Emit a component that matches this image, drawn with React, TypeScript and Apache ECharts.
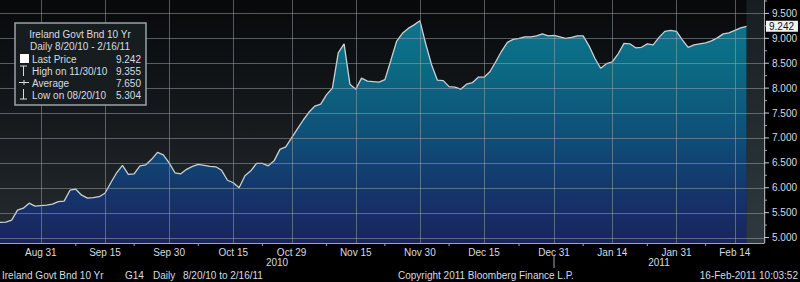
import React, { useEffect, useRef } from "react";
import * as echarts from "echarts";

// ---- categories: every weekday from 20 Aug 2010 to 21 Feb 2011 (last 3 are future slots)
const startDate = "2010-08-20";
const endDate = "2011-02-21";
function businessDays(a: string, b: string): string[] {
  const out: string[] = [];
  const d = new Date(a + "T00:00:00Z");
  const e = new Date(b + "T00:00:00Z");
  while (d <= e) {
    const wd = d.getUTCDay();
    if (wd !== 0 && wd !== 6) out.push(d.toISOString().slice(0, 10));
    d.setUTCDate(d.getUTCDate() + 1);
  }
  return out;
}
const dates = businessDays(startDate, endDate);

// ---- series values (Ireland 10Y yield, daily)
const yields = [
  5.304, 5.31, 5.35, 5.55, 5.59, 5.69, 5.63, 5.64, 5.65, 5.67,
  5.72, 5.73, 5.95, 5.97, 5.85, 5.79, 5.8, 5.82, 5.89, 6.1,
  6.3, 6.45, 6.27, 6.28, 6.44, 6.46, 6.57, 6.71, 6.66, 6.5,
  6.3, 6.28, 6.37, 6.43, 6.47, 6.45, 6.43, 6.42, 6.35, 6.15,
  6.1, 6.0, 6.24, 6.34, 6.49, 6.49, 6.44, 6.54, 6.77, 6.82,
  7.0, 7.18, 7.36, 7.52, 7.64, 7.68, 7.87, 8.0, 8.71, 8.89,
  8.08, 7.98, 8.2, 8.14, 8.13, 8.12, 8.17, 8.55, 8.94, 9.1,
  9.2, 9.27, 9.355, 8.89, 8.47, 8.16, 8.15, 8.03, 8.02, 7.98,
  8.08, 8.11, 8.22, 8.22, 8.33, 8.53, 8.74, 8.92, 8.98, 9.0,
  9.03, 9.03, 9.05, 9.09, 9.05, 9.06, 9.03, 9.0, 9.02, 9.05,
  9.05, 8.85, 8.6, 8.4, 8.49, 8.53, 8.69, 8.9, 8.89, 8.81,
  8.82, 8.89, 8.87, 9.02, 9.14, 9.16, 9.14, 8.97, 8.82, 8.87,
  8.89, 8.91, 8.95, 9.01, 9.09, 9.11, 9.16, 9.21, 9.242,
];

// ---- axis ticks / labels
const tickDates = [
  "2010-08-31", "2010-09-15", "2010-09-30", "2010-10-15", "2010-10-29", "2010-11-15",
  "2010-11-30", "2010-12-15", "2010-12-31", "2011-01-14", "2011-01-31", "2011-02-14",
];
const tickLabels = [
  "Aug 31", "Sep 15", "Sep 30", "Oct 15", "Oct 29", "Nov 15",
  "Nov 30", "Dec 15", "Dec 31", "Jan 14", "Jan 31", "Feb 14",
];
const minorTickIdx = [13, 23, 34, 45, 56, 66, 77, 89, 100, 111, 121];
const yearLabels = ["2010", "2011"];
const yearBreakDate = "2010-12-31";
const yTicks = [5, 5.5, 6, 6.5, 7, 7.5, 8, 8.5, 9, 9.5];
const yMinorTicks = [5.25, 5.75, 6.25, 6.75, 7.25, 7.75, 8.25, 8.75, 9.25, 9.75];
const yMin = 4.89;
const yMax = 9.77;

// ---- legend statistics
const titleText = "Ireland Govt Bnd 10 Yr";
const rangeText = "Daily 8/20/10 - 2/16/11";
const lastPrice = 9.242;
const highDate = "11/30/10";
const highValue = 9.355;
const avgValue = 7.65;
const lowDate = "08/20/10";
const lowValue = 5.304;

const FONT = "Liberation Sans, Arial, sans-serif";
const TXT = "#d6dce0";
const GRID = "rgba(160,168,174,0.5)";
const AXIS = "#a0a6aa";

export default function App() {
  const ref = useRef<HTMLDivElement>(null);
  useEffect(() => {
    if (!ref.current) return;
    const chart = echarts.init(ref.current, null, { renderer: "svg" });
    const tickSet = new Set(tickDates);

    chart.setOption({
      animation: false,
      backgroundColor: "transparent",
      grid: { left: 0, right: 34, top: 0, bottom: 39 },
      xAxis: {
        type: "category",
        data: dates,
        boundaryGap: false,
        axisLine: { show: true, lineStyle: { color: AXIS, width: 1 } },
        axisTick: { show: false },
        axisLabel: {
          interval: (_i: number, v: string) => tickSet.has(v),
          formatter: (v: string) => tickLabels[tickDates.indexOf(v)] ?? "",
          color: TXT,
          fontFamily: FONT,
          fontSize: 10,
          margin: 4,
        },
        splitLine: { show: false },
      },
      yAxis: {
        type: "value",
        position: "right",
        min: yMin,
        max: yMax,
        axisLine: { show: true, lineStyle: { color: AXIS, width: 1 } },
        axisTick: { show: false },
        axisLabel: {
          customValues: yTicks,
          formatter: (v: number) => v.toFixed(3),
          color: TXT,
          fontFamily: FONT,
          fontSize: 10,
          margin: 8,
        },
        splitLine: { show: false },
      },
      series: [
        {
          type: "line",
          data: yields,
          symbol: "none",
          z: 2,
          lineStyle: { color: "#c9d1d5", width: 1.3 },
          areaStyle: {
            opacity: 1,
            color: {
              type: "linear",
              x: 0,
              y: 0,
              x2: 0,
              y2: 243,
              global: true,
              colorStops: [
                { offset: 0, color: "#0a7b8f" },
                { offset: 0.3, color: "#0c6882" },
                { offset: 0.55, color: "#0e5079" },
                { offset: 0.8, color: "#15346b" },
                { offset: 1, color: "#1a245e" },
              ],
            },
          },
          markArea: {
            silent: true,
            itemStyle: { color: "rgba(90,115,120,0.2)" },
            data: [[{ xAxis: dates[yields.length - 1] }, { xAxis: dates[dates.length - 1] }]],
          },
        },
      ],
    });

    // pixel positions from the chart's own scales
    const px = (d: string) => chart.convertToPixel({ xAxisIndex: 0 }, d) as number;
    const py = (v: number) => chart.convertToPixel({ yAxisIndex: 0 }, v) as number;
    const xStart = px(dates[0]);
    const xBreak = px(yearBreakDate);
    const xEnd = px(dates[dates.length - 1]);
    const yTop = py(yMax);
    const yBottom = py(yMin);

    const t = (text: string, x: number, y: number, align = "left", size = 10, fill = TXT, z = 21) => ({
      type: "text",
      x,
      y,
      z,
      silent: true,
      style: { text, fill, font: `${size}px ${FONT}`, textAlign: align, textVerticalAlign: "middle" },
    });
    const ln = (x1: number, y1: number, x2: number, y2: number, c = TXT, w = 1, z = 21) => ({
      type: "line",
      z,
      silent: true,
      shape: { x1, y1, x2, y2 },
      style: { stroke: c, lineWidth: w },
    });

    const gridLines = [
      ...tickDates.map((d) => {
        const x = Math.round(px(d)) + 0.5;
        return ln(x, yTop, x, yBottom, GRID, 1, 15);
      }),
      ...yTicks.map((v) => {
        const y = Math.round(py(v)) + 0.5;
        return ln(xStart, y, xEnd, y, GRID, 1, 15);
      }),
    ];
    const ticks = [
      ...minorTickIdx.map((i) => ln(px(dates[i]), yBottom, px(dates[i]), yBottom + 3, AXIS, 1, 21)),
      ...yTicks.map((v) => ln(xEnd, py(v), xEnd + 5, py(v), "#c8ced2", 1, 21)),
      ...yMinorTicks.map((v) => ln(xEnd, py(v), xEnd + 3, py(v), AXIS, 1, 21)),
    ];
    const yLast = py(lastPrice);

    chart.setOption({
      graphic: [
        ...gridLines,
        ...ticks,
        // last price tag
        {
          type: "rect",
          z: 22,
          silent: true,
          shape: { x: xEnd + 2, y: yLast - 5.5, width: 32, height: 11 },
          style: { fill: "#f2f2f2" },
        },
        t(lastPrice.toFixed(3), xEnd + 5, yLast + 0.5, "left", 10, "#111", 23),
        // legend box
        {
          type: "rect",
          silent: true,
          z: 20,
          shape: { x: 15, y: 23, width: 131, height: 82 },
          style: { fill: "#171c1f", stroke: "#9aa2a7", lineWidth: 1.5 },
        },
        t(titleText, 80, 34, "center"),
        t(rangeText, 80, 46, "center"),
        { type: "rect", z: 21, silent: true, shape: { x: 20, y: 54, width: 9, height: 9 }, style: { fill: "#ffffff" } },
        t("Last Price", 32, 59),
        t(lastPrice.toFixed(3), 141, 59, "right"),
        ln(20, 66, 27, 66),
        ln(23.5, 66, 23.5, 76),
        t(`High on ${highDate}`, 32, 71),
        t(highValue.toFixed(3), 141, 71, "right"),
        ln(19, 82.5, 29, 82.5),
        ln(24, 80, 24, 85),
        t("Average", 32, 83),
        t(avgValue.toFixed(3), 141, 83, "right"),
        ln(23.5, 89, 23.5, 99),
        ln(20, 99, 27, 99),
        t(`Low on ${lowDate}`, 32, 95),
        t(lowValue.toFixed(3), 141, 95, "right"),
        // year labels and separator
        t(yearLabels[0], (xStart + xBreak) / 2, 262, "center"),
        t(yearLabels[1], (xBreak + xEnd) / 2, 262, "center"),
        ln(xBreak, 256, xBreak, 268, AXIS, 1),
        // footer
        t(titleText, 2, 275),
        t("G14", 125, 275),
        t("Daily", 153, 275),
        t("8/20/10 to 2/16/11", 183, 275),
        t("Copyright 2011 Bloomberg Finance L.P.", 398, 275),
        t("16-Feb-2011 10:03:52", 798, 275, "right"),
      ],
    });

    return () => chart.dispose();
  }, []);

  return (
    <div
      ref={ref}
      style={{
        position: "fixed",
        left: 0,
        top: 0,
        width: 800,
        height: 282,
        background: "linear-gradient(#07090b, #252b2f) 0 0 / 766px 243px no-repeat, #000",
      }}
    />
  );
}
